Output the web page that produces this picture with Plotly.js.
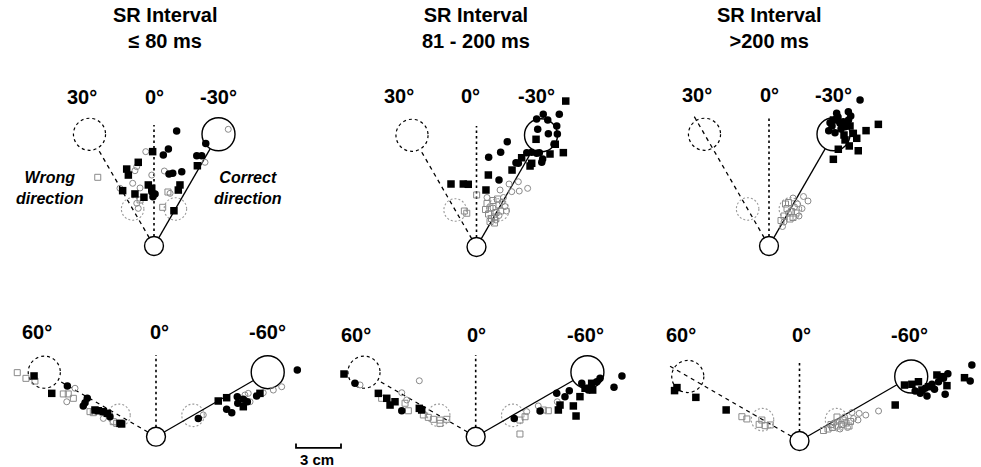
<!DOCTYPE html>
<html><head><meta charset="utf-8">
<script src="https://cdn.plot.ly/plotly-3.0.1.min.js"></script>
<style>html,body{margin:0;padding:0;background:#fff}#chart{width:981px;height:467px}</style>
</head><body><div id="chart"></div>
<script>
// ================= DATA (cm, relative to start circle; +x right, +y up) =================
const titleLine1 = "SR Interval";
const intervalLabels = ["\u2264 80 ms", "81 - 200 ms", ">200 ms"];
const topAngles = [30, 0, -30];
const bottomAngles = [60, 0, -60];
const nearDist = 2.85, farDist = 8.6;
const startRadius = 0.63, farRadius = 1.1, wrongRadius = 1.07, nearRadius = 0.75;
const scaleBarCm = 3;

// Panel 1: <=80 ms, 30 deg
const p1FilledCircles = [[1.51,7.67],[0.96,6.47],[0.62,6.07],[1.85,4.95],[1.25,4.85],[1.0,4.8],[2.85,6.02],[3.18,6.02],[3.45,6.84],[-0.15,3.62],[-0.07,3.29],[0.07,3.47]];
const p1FilledSquares = [[-0.09,6.29],[-1.05,5.58],[-1.82,5.13],[-1.71,4.73],[-2.09,3.69],[-1.27,3.47],[-0.67,3.25],[-0.38,4.07],[-0.15,3.85],[1.73,4.07],[1.62,3.73],[2.89,5.35],[1.33,2.35]];
const p1OpenCircles = [[-0.55,6.29],[4.95,7.78],[3.4,5.58],[0.69,5.0],[-1.42,4.18],[-1.27,5.02],[-1.15,5.29],[-0.15,4.73],[1.07,3.51],[-2.27,3.85],[-1.15,2.85],[-1.05,2.51],[-0.93,3.87]];
const p1OpenSquares = [[-3.75,4.58],[0.58,2.58],[-0.93,3.07],[0.93,3.6]];

// Panel 2: 81-200 ms, 30 deg
const p2FilledCircles = [[4.01,8.53],[4.45,8.85],[4.75,8.47],[5.52,8.85],[4.08,7.85],[4.79,7.55],[5.35,8.07],[5.39,7.53],[5.17,6.85],[3.35,6.29],[3.68,6.31],[4.01,6.25],[4.19,6.29],[4.41,5.87],[4.35,5.65],[2.05,7.02],[1.61,6.31],[0.81,5.98],[2.63,5.62],[2.79,5.58],[1.5,4.47]];
const p2FilledSquares = [[5.95,9.73],[3.97,7.18],[5.25,6.85],[5.79,6.29],[3.68,5.58],[3.01,5.95],[2.37,5.13],[0.79,4.8],[-1.7,4.2],[-0.88,4.2],[-0.55,4.18],[0.63,3.8],[3.57,5.4],[4.9,6.2]];
const p2OpenCircles = [[2.17,4.2],[2.79,4.35],[3.41,3.91],[1.57,3.8],[2.35,3.69],[2.85,3.73],[1.7,3.0],[1.9,2.7],[1.5,2.1],[1.1,2.6],[1.8,3.3],[2.0,2.4],[1.3,1.8],[0.7,3.3]];
const p2OpenSquares = [[0.01,3.47],[-0.81,2.4],[-0.65,2.25],[0.7,2.9],[0.9,2.6],[1.1,3.1],[1.3,2.3],[0.8,2.2],[1.5,2.8],[1.0,1.9],[1.2,2.0],[0.6,2.5],[1.6,2.4],[1.4,3.2],[0.9,1.7],[1.2,1.6]];

// Panel 3: >200 ms, 30 deg
const p3FilledCircles = [[6.07,9.73],[4.51,8.85],[5.29,8.95],[5.45,8.67],[4.07,8.22],[4.73,8.18],[5.07,7.95],[3.98,7.69],[4.4,7.55],[4.95,8.29],[4.51,8.51],[4.2,8.0],[4.8,7.8],[5.3,8.4],[4.6,8.6]];
const p3FilledSquares = [[7.29,8.11],[6.47,7.69],[5.85,7.18],[5.35,6.67],[5.95,6.35],[4.62,6.45],[4.29,5.78],[5.07,7.07],[5.62,7.51],[5.4,8.0],[4.3,8.4],[5.0,7.4]];
const p3OpenCircles = [[2.6,3.0],[2.3,3.3],[1.9,2.8],[2.2,2.5],[1.6,3.2],[1.3,2.2],[1.0,1.6],[2.0,2.0],[1.7,2.6],[0.9,1.3]];
const p3OpenSquares = [[1.2,2.5],[1.5,2.3],[1.0,2.0],[1.4,1.8],[1.8,2.2],[1.1,2.8],[1.6,1.9],[0.8,1.7],[1.3,2.9]];

// Panel 4: <=80 ms, 60 deg
const p4FilledCircles = [[-5.91,3.38],[-4.58,2.56],[-4.73,2.27],[-4.85,2.05],[-3.07,1.33],[2.82,1.22],[5.42,2.67],[5.82,2.49],[6.09,2.33],[6.71,2.71],[5.45,2.23],[4.71,1.83],[5.05,1.6],[9.42,4.45]];
const p4FilledSquares = [[-8.13,4.05],[-6.95,2.89],[-4.07,1.78],[-3.85,1.73],[-3.51,1.67],[-3.25,1.56],[-2.4,0.89],[-2.29,0.85],[4.15,2.38],[4.71,2.6],[5.82,2.0],[6.93,2.89]];
const p4OpenCircles = [[-5.95,2.33],[-5.4,3.23],[-3.51,1.22],[-3.07,1.45],[3.15,1.45],[5.93,2.78],[6.15,2.89],[7.15,2.93],[7.82,3.11],[8.38,3.33],[6.27,2.33]];
const p4OpenSquares = [[-9.25,4.27],[-8.67,3.89],[-8.07,3.71],[-6.18,2.85],[-5.85,2.85],[-5.51,2.56],[-4.4,1.67],[-4.18,1.6],[-2.85,1.0],[-2.62,0.89]];

// Panel 5: 81-200 ms, 60 deg
const p5FilledCircles = [[-8.05,3.56],[-4.93,1.73],[5.4,2.89],[5.95,2.67],[6.24,3.07],[7.07,3.56],[7.51,3.11],[8.07,3.67],[8.29,3.89],[9.22,3.29],[9.75,4.05],[4.29,1.71],[2.57,1.22]];
const p5FilledSquares = [[-8.78,4.18],[-6.49,2.89],[-5.93,2.56],[-5.71,2.11],[-5.38,2.33],[-3.76,1.89],[-3.6,1.78],[6.95,2.67],[7.29,3.23],[7.73,3.56],[7.8,3.11],[5.62,2.11],[5.51,1.78],[6.51,2.05],[6.69,1.38]];
const p5OpenCircles = [[-3.76,3.73],[-4.93,2.93],[-4.6,2.45],[-7.71,3.45],[5.44,2.33],[3.4,1.67],[4.17,2.05]];
const p5OpenSquares = [[-6.27,2.56],[-4.71,2.23],[-4.49,1.73],[-3.49,1.45],[-3.16,1.29],[-2.82,1.16],[-2.38,1.11],[-1.93,1.16],[-2.38,0.89],[2.95,1.11],[3.29,1.33],[4.51,1.78],[4.84,1.73],[2.95,0.18]];

// Panel 6: >200 ms, 60 deg
const p6FilledCircles = [[7.71,3.33],[8.05,3.18],[8.38,3.51],[8.83,3.78],[9.27,3.95],[9.6,4.18],[9.89,4.49],[9.71,3.11],[11.38,4.0],[11.49,5.07],[8.5,3.0],[9.0,3.45]];
const p6FilledSquares = [[-8.17,3.56],[-8.33,3.36],[-6.91,2.91],[-4.89,2.07],[6.38,2.4],[7.0,3.73],[7.49,3.78],[7.93,3.95],[8.16,3.4],[8.6,3.62],[9.16,4.4],[9.45,4.29],[9.83,3.69],[11.0,4.22]];
const p6OpenCircles = [[2.6,1.3],[3.0,1.6],[3.6,1.5],[3.9,1.4],[2.3,1.2],[3.2,0.9],[3.98,1.84],[4.42,1.73],[5.27,2.0],[2.7,0.8],[3.5,1.9]];
const p6OpenSquares = [[-3.84,1.62],[-3.51,1.47],[-2.69,1.11],[-2.29,1.02],[-1.95,1.07],[-2.51,1.4],[1.6,0.7],[1.9,0.8],[2.2,0.9],[2.5,1.0],[2.8,1.1],[3.1,1.2],[3.4,1.3],[2.5,1.6],[2.9,1.4],[3.3,1.0],[2.1,1.1]];

// ================= LAYOUT (positions / styles) =================
const W = 981, H = 467, PXCM = 15;
const FONT = "Liberation Sans, Arial, Helvetica, sans-serif";
const panels = [
  {origin:[154,246],   angles:topAngles,    pts:[p1FilledCircles,p1FilledSquares,p1OpenCircles,p1OpenSquares], labelX:[-4.8,0,4.27],  labelY:9.95, vTop:8.07, wrongEnd:farDist-wrongRadius},
  {origin:[476.5,247], angles:topAngles,    pts:[p2FilledCircles,p2FilledSquares,p2OpenCircles,p2OpenSquares], labelX:[-5.17,-0.43,3.97], labelY:10.1, vTop:8.07, wrongEnd:farDist-wrongRadius},
  {origin:[769,246],   angles:topAngles,    pts:[p3FilledCircles,p3FilledSquares,p3OpenCircles,p3OpenSquares], labelX:[-4.77,0,4.3],  labelY:10.07, vTop:8.6, wrongEnd:10.1},
  {origin:[156,436.7], angles:bottomAngles, pts:[p4FilledCircles,p4FilledSquares,p4OpenCircles,p4OpenSquares], labelX:[-7.93,0.2,7.43], labelY:7.0, vTop:5.45, wrongEnd:farDist-wrongRadius},
  {origin:[475.7,436.7],angles:bottomAngles,pts:[p5FilledCircles,p5FilledSquares,p5OpenCircles,p5OpenSquares], labelX:[-7.98,0.07,7.29], labelY:6.8, vTop:5.45, wrongEnd:farDist-wrongRadius},
  {origin:[799.5,441], angles:bottomAngles, pts:[p6FilledCircles,p6FilledSquares,p6OpenCircles,p6OpenSquares], labelX:[-7.93,0.11,7.33], labelY:7.07, vTop:5.4, wrongEnd:10.0}
];
const titleCenters = [[165,28],[476,28],[769,28]];

const gray = '#8a8a8a';
const markerStyles = [
  {symbol:'circle', size:7.5, color:'#000', line:{width:0}},
  {symbol:'square', size:7.5, color:'#000', line:{width:0}},
  {symbol:'circle-open', size:6, color:gray, line:{width:1, color:gray}},
  {symbol:'square-open', size:6, color:gray, line:{width:1, color:gray}}
];

const traces = [], shapes = [], annotations = [];
const layout = {
  width: W, height: H, margin:{l:0,r:0,t:0,b:0}, showlegend:false,
  paper_bgcolor:'#fff', plot_bgcolor:'rgba(0,0,0,0)',
  font:{family:FONT, color:'#000'}
};
const rad = d => d*Math.PI/180;
const dirXY = (ang, d) => [-d*Math.sin(rad(ang)), d*Math.cos(rad(ang))];

panels.forEach((p, i) => {
  const n = i + 1, sfx = n === 1 ? '' : String(n);
  const xa = 'x' + sfx, ya = 'y' + sfx;
  const [ox, oy] = p.origin;
  const axBase = {visible:false, showgrid:false, zeroline:false, fixedrange:true, domain:[0,1]};
  layout['xaxis' + sfx] = Object.assign({}, axBase, {range:[-ox/PXCM, (W-ox)/PXCM]}, n>1?{overlaying:'x'}:{});
  layout['yaxis' + sfx] = Object.assign({}, axBase, {range:[(oy-H)/PXCM, oy/PXCM]}, n>1?{overlaying:'y'}:{});

  const [wrongA, zeroA, correctA] = p.angles;
  const lineTrace = (ang, r0, r1, dash, w) => {
    const a = dirXY(ang, r0), b = dirXY(ang, r1);
    traces.push({x:[a[0],b[0]], y:[a[1],b[1]], xaxis:xa, yaxis:ya, mode:'lines',
      line:{color:'#000', width:w, dash:dash}, hoverinfo:'skip'});
  };
  lineTrace(wrongA, startRadius, p.wrongEnd, '4px,4px', 1.3);
  lineTrace(zeroA, startRadius, p.vTop, '2.5px,3px', 1.6);
  lineTrace(correctA, startRadius, farDist - farRadius, 'solid', 1.3);

  const circ = (c, r, color, dash, w) => shapes.push({type:'circle', xref:xa, yref:ya,
    x0:c[0]-r, x1:c[0]+r, y0:c[1]-r, y1:c[1]+r, line:{color:color, width:w, dash:dash}, layer:'below'});
  circ([0,0], startRadius, '#000', 'solid', 1.4);
  circ(dirXY(correctA, farDist), farRadius, '#000', 'solid', 1.4);
  circ(dirXY(wrongA, farDist), wrongRadius, '#000', '3px,3px', 1.2);
  circ(dirXY(correctA, nearDist), nearRadius, '#999', '2px,2px', 1.1);
  circ(dirXY(wrongA, nearDist), nearRadius, '#999', '2px,2px', 1.1);

  [2,3,0,1].forEach(k => {
    const arr = p.pts[k];
    traces.push({x:arr.map(v=>v[0]), y:arr.map(v=>v[1]), xaxis:xa, yaxis:ya, mode:'markers',
      marker:markerStyles[k], cliponaxis:false, hoverinfo:'skip'});
  });

  p.angles.forEach((a, j) => annotations.push({xref:xa, yref:ya, x:p.labelX[j], y:p.labelY,
    text:'<b>' + a + '\u00b0</b>', showarrow:false, xanchor:'center', yanchor:'middle',
    font:{size:20, family:FONT, color:'#000'}}));
});

titleCenters.forEach((t, i) => {
  annotations.push({xref:'paper', yref:'paper', x:t[0]/W, y:1-t[1]/H,
    text:'<b>'+titleLine1+'</b><br><b>'+intervalLabels[i]+'</b>',
    showarrow:false, xanchor:'center', yanchor:'middle', align:'center', font:{size:20, family:FONT}});
});

[['Wrong<br>direction',50,188],['Correct<br>direction',248,188]].forEach(d => {
  annotations.push({xref:'paper', yref:'paper', x:d[1]/W, y:1-d[2]/H, text:'<b><i>'+d[0].replace('<br>','</i></b><br><b><i>')+'</i></b>',
    showarrow:false, xanchor:'center', yanchor:'middle', align:'center', font:{size:16, family:FONT}});
});

const sbX0 = (296-156)/PXCM, sbY = -0.75, tick = 0.3;
traces.push({x:[sbX0, sbX0, sbX0+scaleBarCm, sbX0+scaleBarCm], y:[sbY+tick, sbY, sbY, sbY+tick],
  xaxis:'x4', yaxis:'y4', mode:'lines', line:{color:'#000', width:1.8}, hoverinfo:'skip'});
annotations.push({xref:'x4', yref:'y4', x:sbX0+scaleBarCm/2 - 0.1, y:sbY-0.8, text:'<b>' + scaleBarCm + ' cm</b>',
  showarrow:false, xanchor:'center', yanchor:'middle', font:{size:15, family:FONT}});

layout.shapes = shapes;
layout.annotations = annotations;
Plotly.newPlot('chart', traces, layout, {staticPlot:true, displayModeBar:false});
</script></body></html>
